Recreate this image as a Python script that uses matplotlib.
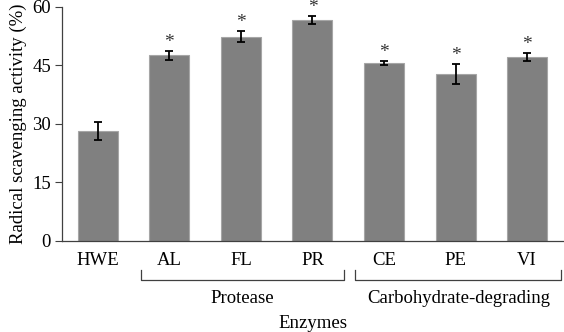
import matplotlib
matplotlib.use("Agg")
import matplotlib.pyplot as plt
import numpy as np

categories = ["HWE", "AL", "FL", "PR", "CE", "PE", "VI"]
activity = [28.1, 47.6, 52.3, 56.6, 45.6, 42.7, 47.1]
errors = [2.3, 1.2, 1.4, 1.0, 0.6, 2.6, 1.1]
significant = [False, True, True, True, True, True, True]
groups = [("Protease", 0.61, 3.44), ("Carbohydrate-degrading", 3.60, 6.48)]
yticks = [0, 15, 30, 45, 60]

plt.rcParams["font.family"] = ["Liberation Serif", "DejaVu Serif"]
fs = 13.5

fig = plt.figure(figsize=(5.64, 3.32), dpi=100)
ax = fig.add_axes([0.110, 0.2756, 0.888, 0.7034])

x = np.arange(len(categories))
ax.bar(x, activity, width=0.56, color="#808080", edgecolor="#a6a6a6", linewidth=0.8)
ax.errorbar(x, activity, yerr=errors, fmt="none", ecolor="black",
            elinewidth=1.3, capsize=3, capthick=1.3)

for xi, v, e, s in zip(x, activity, errors, significant):
    if s:
        ax.annotate("*", (xi, v + e), xytext=(0, 0), textcoords="offset points",
                    ha="center", va="bottom", fontsize=14, color="#333333")

ax.set_xlim(-0.5, len(categories) - 0.5)
ax.set_ylim(0, 60)
ax.set_yticks(yticks)
ax.set_xticks(x)
ax.set_xticklabels(categories)
ax.tick_params(axis="y", labelsize=fs, length=5, width=0.8, color="#404040", pad=3)
ax.tick_params(axis="x", labelsize=fs, length=0, pad=8)
for side in ["top", "right"]:
    ax.spines[side].set_visible(False)
for side in ["left", "bottom"]:
    ax.spines[side].set_color("#404040")
    ax.spines[side].set_linewidth(0.9)

ax.set_ylabel("Radical scavenging activity (%)", fontsize=fs, labelpad=4)

# group brackets below the tick labels
trans = ax.get_xaxis_transform()
y_top = -0.128
y_bot = -0.168
for name, x0, x1 in groups:
    ax.plot([x0, x0, x1, x1], [y_top, y_bot, y_bot, y_top], transform=trans,
            color="#404040", linewidth=0.9, clip_on=False)
    ax.text((x0 + x1) / 2, -0.21, name, transform=trans, ha="center", va="top",
            fontsize=fs)

ax.text(0.5, -0.318, "Enzymes", transform=ax.transAxes, ha="center", va="top",
        fontsize=fs)

fig.savefig("out.png", dpi=100)
